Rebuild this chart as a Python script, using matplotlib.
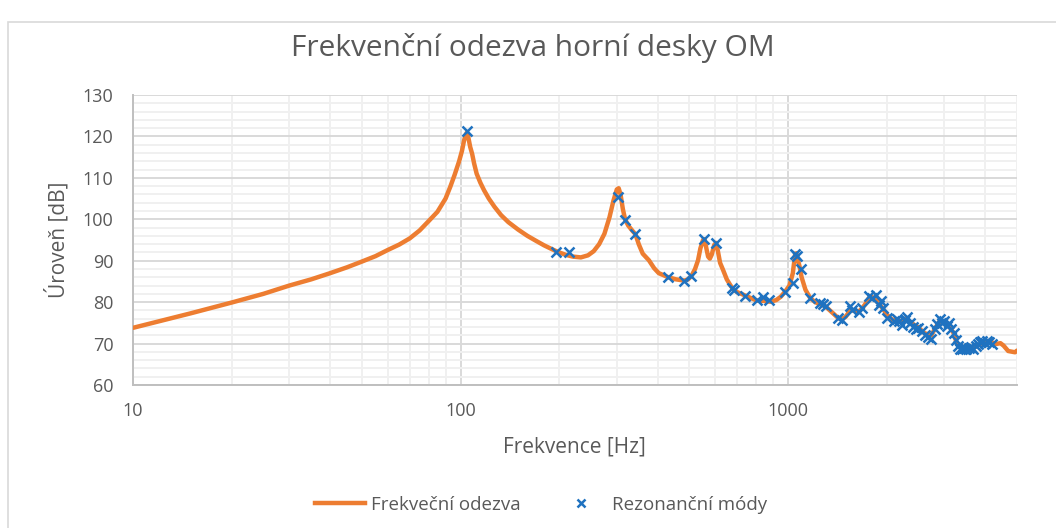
import matplotlib
matplotlib.use("Agg")
import matplotlib.pyplot as plt
from matplotlib.ticker import FixedLocator, NullFormatter
from matplotlib.patches import Rectangle
from matplotlib.lines import Line2D

plt.rcParams['font.family'] = ['Open Sans', 'DejaVu Sans']

# --- data ---
curve_freq = [10, 15, 20, 25, 30, 35, 40, 45, 50, 55, 60, 65, 70, 75, 80, 85, 90, 93, 96, 99,
              101, 102.5, 103.5, 104.5, 105.5, 107, 108.5, 110, 112, 115, 118, 122, 127, 133,
              140, 150, 160, 170, 180, 190, 200, 210, 220, 233, 245, 255, 265, 275, 285, 293,
              300, 304, 308, 313, 318, 325, 335, 342, 350, 360, 376, 390, 403, 431, 455, 482,
              495, 507, 520, 531, 540, 550, 556, 563, 570, 577, 585, 595, 603, 610, 620, 633,
              650, 665, 680, 700, 720, 739, 770, 802, 840, 884, 920, 950, 981, 1010, 1034,
              1051, 1060, 1070, 1085, 1100, 1130, 1168, 1210, 1252, 1300, 1350, 1421, 1456,
              1500, 1547, 1600, 1643, 1683, 1720, 1765, 1808, 1853, 1900, 1944, 2003, 2077,
              2150, 2205, 2288, 2374, 2490, 2611, 2738, 2803, 2905, 2976, 3085, 3199, 3276,
              3398, 3566, 3741, 3926, 4120, 4323, 4450, 4550, 4700, 4930, 5000]
curve_level = [73.8, 77.3, 79.9, 82.0, 84.0, 85.5, 87.0, 88.4, 89.8, 91.1, 92.6, 93.9, 95.4, 97.3,
               99.6, 101.8, 105.0, 107.8, 110.8, 114.0, 116.5, 119.0, 120.2, 120.9, 120.0, 117.5,
               115.8, 113.5, 111.0, 108.8, 107.0, 105.0, 103.0, 101.0, 99.3, 97.5, 96.0, 94.8,
               93.7, 92.8, 92.0, 91.4, 91.0, 90.8, 91.3, 92.3, 94.0, 96.5, 100.5, 104.5, 107.2,
               107.5, 106.0, 102.5, 100.0, 98.5, 97.2, 96.4, 94.0, 91.7, 90.1, 88.2, 87.0, 86.0,
               85.5, 85.2, 85.5, 86.3, 88.0, 90.1, 93.0, 95.0, 95.2, 93.0, 91.0, 90.5, 91.5,
               93.8, 94.3, 92.5, 89.5, 87.8, 85.5, 84.2, 83.1, 82.4, 82.0, 81.6, 81.0, 80.4,
               80.3, 80.1, 80.5, 81.3, 82.6, 84.0, 87.0, 91.6, 91.8, 90.5, 88.5, 86.0, 83.0,
               81.0, 80.0, 79.5, 79.0, 77.8, 76.2, 75.8, 76.5, 78.0, 78.0, 77.7, 78.5, 79.5,
               81.0, 81.2, 80.5, 79.5, 78.5, 77.0, 75.8, 75.5, 75.4, 76.0, 75.0, 74.0, 72.5,
               72.0, 73.5, 75.5, 75.0, 74.5, 72.6, 70.0, 68.8, 69.0, 69.3, 70.2, 70.5, 69.9,
               70.1, 69.5, 68.2, 67.9, 68.3]

mode_freq = [104.5, 196, 214, 302, 318, 342, 431, 482, 507, 553, 604, 676, 683, 739, 802, 841,
             873, 981, 1034, 1051, 1068, 1095, 1168, 1252, 1280, 1307, 1421, 1456, 1547, 1566,
             1643, 1683, 1765, 1808, 1853, 1898, 1921, 1944, 2003, 2110, 2150, 2188, 2230, 2268,
             2300, 2352, 2400, 2450, 2500, 2560, 2620, 2680, 2740, 2800, 2850, 2905, 2950, 3000,
             3050, 3100, 3150, 3200, 3250, 3300, 3350, 3400, 3450, 3500, 3560, 3620, 3680, 3740,
             3800, 3860, 3920, 3980, 4050, 4120, 4200]
mode_level = [121.4, 92.0, 92.0, 105.4, 99.9, 96.4, 86.0, 85.2, 86.3, 95.2, 94.2, 83.4, 82.9,
              81.6, 80.4, 81.2, 80.6, 82.4, 84.6, 91.6, 91.2, 88.1, 81.0, 79.7, 79.6, 79.0,
              76.2, 75.8, 79.0, 78.2, 77.7, 78.5, 81.4, 81.0, 81.8, 79.4, 80.2, 78.6, 76.2,
              75.4, 76.0, 75.4, 74.5, 75.8, 76.5, 75.0, 74.0, 73.5, 73.8, 73.0, 72.0, 71.5,
              71.2, 73.5, 74.8, 76.0, 75.0, 75.5, 74.2, 75.0, 73.5, 72.5, 70.8, 69.5, 68.8,
              68.6, 69.0, 68.7, 68.9, 69.2, 68.8, 69.4, 69.8, 70.3, 70.6, 70.2, 70.7, 70.4, 70.0]

x_ticks = [10, 100, 1000]
x_tick_labels = ['10', '100', '1000']
y_ticks = [60, 70, 80, 90, 100, 110, 120, 130]

title = 'Frekvenční odezva horní desky OM'
xlabel = 'Frekvence [Hz]'
ylabel = 'Úroveň [dB]'
legend_labels = ['Frekveční odezva', 'Rezonanční módy']

ORANGE = '#ED7D31'
BLUE = '#1F72C0'
TEXT = '#595959'

W, H = 1056, 528
fig = plt.figure(figsize=(W / 100, H / 100), dpi=100)
fig.patch.set_facecolor('white')

# chart border
fig.add_artist(Rectangle((8 / W, -0.1), 1.2, 1 - 22 / H + 0.1, transform=fig.transFigure,
                         fill=False, edgecolor='#D9D9D9', linewidth=1.2))

ax = fig.add_axes([133 / W, 1 - 385 / H, (1017 - 133) / W, (385 - 95) / H])
ax.set_xscale('log')
ax.set_xlim(10, 5000)
ax.set_ylim(60, 130)

# grid
minor_x = [m * d for d in (10, 100, 1000) for m in range(2, 10) if m * d <= 5000]
ax.xaxis.set_minor_locator(FixedLocator(minor_x))
ax.xaxis.set_minor_formatter(NullFormatter())
ax.xaxis.set_major_locator(FixedLocator(x_ticks))
ax.set_xticklabels(x_tick_labels)
ax.yaxis.set_major_locator(FixedLocator(y_ticks))
ax.yaxis.set_minor_locator(FixedLocator([v for v in range(60, 131, 2) if v % 10]))

ax.grid(which='major', axis='both', color='#D9D9D9', linewidth=1.4)
ax.grid(which='minor', axis='both', color='#F0F0F0', linewidth=1.4)
ax.set_axisbelow(True)

for s in ('top', 'right'):
    ax.spines[s].set_visible(False)
for s in ('left', 'bottom'):
    ax.spines[s].set_color('#BFBFBF')
    ax.spines[s].set_linewidth(1.4)

ax.tick_params(which='both', length=0)
ax.tick_params(axis='y', pad=14, labelsize=13, labelcolor=TEXT)
ax.tick_params(axis='x', pad=12, labelsize=13, labelcolor=TEXT)

ax.plot(curve_freq, curve_level, color=ORANGE, linewidth=3.2, solid_capstyle='round',
        solid_joinstyle='round', zorder=3)
ax.plot(mode_freq, mode_level, linestyle='none', marker='x', color=BLUE, markersize=7,
        markeredgewidth=1.8, zorder=4)

fig.text(533 / W, 1 - 48 / H, title, ha='center', va='center', fontsize=21.5,
         color=TEXT)
fig.text(574 / W, 1 - 447 / H, xlabel, ha='center', va='center', fontsize=15, color=TEXT)
fig.text(57 / W, 1 - 240 / H, ylabel, ha='center', va='center', fontsize=15, color=TEXT,
         rotation=90)

handles = [Line2D([], [], color=ORANGE, linewidth=3.2),
           Line2D([], [], linestyle='none', marker='x', color=BLUE, markersize=6,
                  markeredgewidth=1.8)]
leg = fig.legend(handles, legend_labels, loc='center', bbox_to_anchor=(541 / W, 1 - 505 / H),
                 ncol=2, frameon=False, fontsize=13.5, handlelength=2.7, handletextpad=0.3,
                 columnspacing=1.9)
for t in leg.get_texts():
    t.set_color(TEXT)

fig.savefig('out.png', dpi=100, facecolor='white')
